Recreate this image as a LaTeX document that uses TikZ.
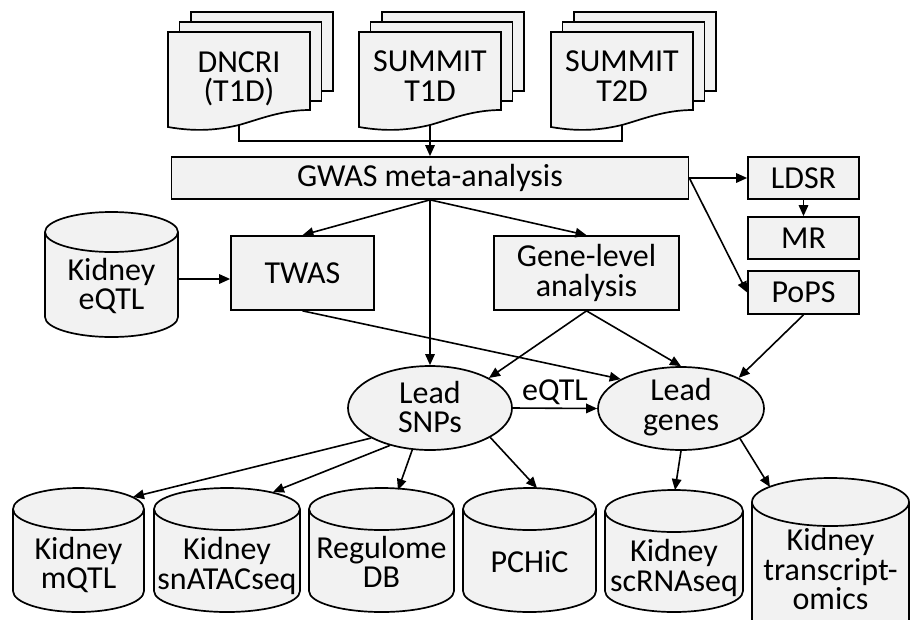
\documentclass[tikz,border=0pt]{standalone}
\usepackage{fontspec}
\setmainfont{Carlito}
\usetikzlibrary{arrows.meta,calc,shapes.geometric}
\definecolor{boxfill}{HTML}{F2F2F2}
\pgfdeclarelayer{back}
\pgfsetlayers{back,main}
\newcommand\diafont{\fontsize{32}{29.5}\selectfont}
\tikzset{
  ln/.style={line width=1.7pt, line join=miter},
  arr/.style={line width=1.6pt, -{Triangle[length=11pt,width=9.5pt]}},
  lbl/.style={inner sep=0pt, align=center, font=\diafont},
  box/.style={draw, ln, fill=boxfill, inner sep=0pt, align=center, font=\diafont},
  oval/.style={ellipse, draw, ln, fill=boxfill, inner sep=0pt},
  hold/.style={inner sep=0pt, outer sep=0pt},
}
% #1 name, #2 centre x, #3 text y, #4 text
\newcommand\docstack[4]{%
  \pgfmathsetmacro\myL{#2-71}%
  \pgfmathsetmacro\myR{#2+71}%
  \filldraw[ln, fill=boxfill] (\myL+23,12) rectangle (\myR+23,91);
  \filldraw[ln, fill=boxfill] (\myL+11.5,22) rectangle (\myR+11.5,101);
  \filldraw[ln, fill=boxfill] (\myL,32) -- (\myR,32) -- (\myR,110)
     .. controls (\myR-28.4,110) and (\myR-49.7,119) .. (#2,125)
     .. controls (\myL+49.7,130) and (\myL+28.4,132) .. (\myL,127) -- cycle;
  \node[lbl] (#1) at (#2,#3) {#4};
}
% #1 name, #2 x1, #3 y1, #4 x2, #5 y2, #6 ry, #7 text y, #8 text
\newcommand\cylshape[8]{%
  \pgfmathsetmacro\myCx{(#2+#4)/2}%
  \pgfmathsetmacro\myRx{(#4-#2)/2}%
  \pgfmathsetmacro\myCy{(#3+#5)/2}%
  \pgfmathsetmacro\myW{#4-#2}%
  \pgfmathsetmacro\myH{#5-#3}%
  \filldraw[ln, fill=boxfill] (#2,#3+#6) -- (#2,#5-#6)
     arc[start angle=180, end angle=360, x radius=\myRx pt, y radius=#6pt]
     -- (#4,#3+#6)
     arc[start angle=0, end angle=180, x radius=\myRx pt, y radius=#6pt] -- cycle;
  \draw[ln] (#2,#3+#6) arc[start angle=180, end angle=360, x radius=\myRx pt, y radius=#6pt];
  \node[hold, minimum width=\myW pt, minimum height=\myH pt] (#1) at (\myCx,\myCy) {};
  \node[lbl] (#1t) at (\myCx,#7) {#8};
}
\begin{document}
\begin{tikzpicture}[x=1pt,y=-1pt]
\useasboundingbox (0,0) rectangle (910,619);
\clip (0,0) rectangle (910,619);

\docstack{d1}{239}{79}{DNCRI\\(T1D)}
\docstack{d2}{430}{76}{SUMMIT\\T1D}
\docstack{d3}{622}{76}{SUMMIT\\T2D}

\node[box, minimum width=517pt, minimum height=42pt] (gwas) at (430,178) {GWAS meta-analysis};
\coordinate (j1) at (430,141);
\begin{pgfonlayer}{back}
  \draw[ln] (d1.center) |- (j1) -| (d3.center);
  \draw[arr] (d2.center) -- (gwas.north);
\end{pgfonlayer}

\node[box, minimum width=111pt, minimum height=42pt] (ldsr) at (803.5,178) {LDSR};
\node[box, minimum width=111pt, minimum height=42pt] (mr) at (803.5,238) {MR};
\node[box, minimum width=111pt, minimum height=43pt] (pops) at (803.5,292.5) {PoPS};
\node[box, minimum width=143pt, minimum height=74pt] (twas) at (302.5,273) {TWAS};
\node[box, minimum width=185pt, minimum height=74pt] (gene) at (586.5,273) {Gene-level\\analysis};

\cylshape{eqtl}{45}{212}{178}{337}{20}{286}{Kidney\\eQTL}
\coordinate (eqout) at ($(eqtl.east)+(0,4.5)$);

\node[oval, minimum width=164pt, minimum height=84pt] (snps) at (430,408) {};
\node[lbl] (snpst) at (430,407) {Lead\\SNPs};
\node[oval, minimum width=166pt, minimum height=83pt] (genes) at (681,408.5) {};
\node[lbl] (genest) at (681,407) {Lead\\genes};

\cylshape{mqtl}{13}{488}{144}{612}{21}{565}{Kidney\\mQTL}
\cylshape{snatac}{154}{488}{300}{612}{21}{566}{Kidney\\snATACseq}
\cylshape{regdb}{309}{488}{454}{612}{21}{562}{Regulome\\DB}
\cylshape{pchic}{463}{488}{596}{612}{21}{562}{PCHiC}
\cylshape{scrna}{605}{490}{743}{612}{21}{568}{Kidney\\scRNAseq}
\cylshape{trans}{752}{478}{909}{660}{24}{569}{Kidney\\transcript-\\omics}

\draw[arr] (gwas.east) -- (ldsr.west);
\draw[arr] (ldsr.south) -- (mr.north);
\draw[arr] (gwas.east) -- (pops.west);
\draw[arr] (gwas.south) -- (twas.north);
\draw[arr] (gwas.south) -- (snps.north);
\draw[arr] (gwas.south) -- (gene.north);
\draw[arr] (eqout) -- (eqout -| twas.west);
\draw[arr] (twas.south) -- (genes.154);
\draw[arr] (gene.south) -- (snps.27);
\draw[arr] (gene.south) -- (genes.north);
\draw[arr] (pops.south) -- (genes.28);
\draw[arr] (snps.east) -- (genes.west) node[lbl, midway, above=3pt] (eqtllbl) {eQTL};
\draw[arr] (snps.207) -- ($(mqtl.north)+(54.5,9)$);
\draw[arr] (snps.223) -- ($(snatac.north)+(46,4)$);
\draw[arr] (snps.247) -- ($(regdb.north)+(16.5,2)$);
\draw[arr] (snps.334) -- ($(pchic.north)+(7.5,0)$);
\draw[arr] (genes.south) -- ($(scrna.north)+(1,0)$);
\draw[arr] (genes.333) -- ($(trans.north)+(-60.5,9)$);
\end{tikzpicture}
\end{document}
